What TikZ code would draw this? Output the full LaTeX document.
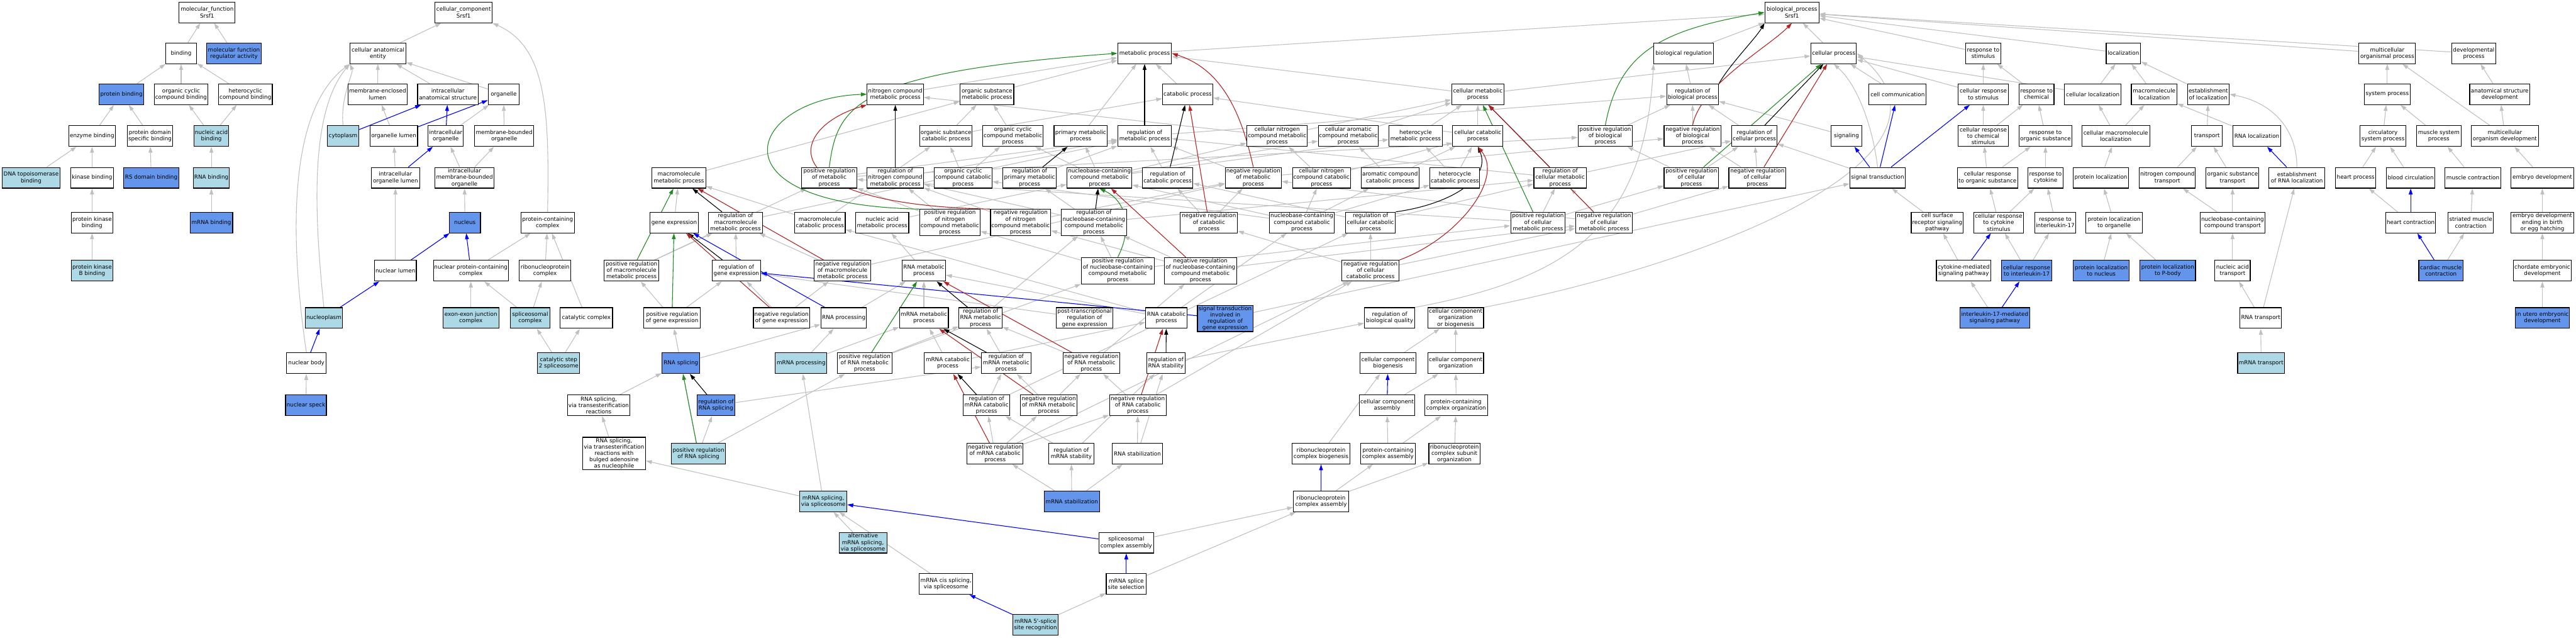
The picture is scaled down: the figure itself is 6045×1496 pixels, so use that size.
\documentclass[tikz,border=0pt]{standalone}
\usepackage{fontspec}
\setmainfont{DejaVu Sans}
\usetikzlibrary{arrows.meta,backgrounds}
\definecolor{dblue}{HTML}{6495ED}
\definecolor{lblue}{HTML}{ADD8E6}
\definecolor{egrey}{HTML}{C0C0C0}
\definecolor{egreen}{HTML}{228B22}
\definecolor{ered}{HTML}{B22222}
\definecolor{eblue}{HTML}{0000FF}
\tikzset{
 gobox/.style={draw=black, line width=1.6pt, rectangle, align=center, font=\fontsize{13}{15}\selectfont, inner xsep=2pt, inner ysep=2pt, minimum height=48.6pt},
 nw/.style={gobox, fill=white},
 nd/.style={gobox, fill=dblue},
 nl/.style={gobox, fill=lblue},
 eg/.style={draw=egrey, line width=1.6pt, -{Triangle[length=14pt,width=9pt]}},
 eb/.style={draw=eblue, line width=1.6pt, -{Triangle[length=14pt,width=9pt]}},
 ek/.style={draw=black, line width=1.6pt, -{Triangle[length=14pt,width=9pt]}},
 egr/.style={draw=egreen, line width=1.6pt, -{Triangle[length=14pt,width=9pt]}},
 er/.style={draw=ered, line width=1.6pt, -{Triangle[length=14pt,width=9pt]}}
}
\newcommand\Nd[5]{\node[#1,minimum width=#4pt] (#2) at (#3) {#5};}
\begin{document}
\begin{tikzpicture}[x=1pt,y=-1pt]
\useasboundingbox (0,0) rectangle (6045,1496);
% ---------- molecular function ----------
\Nd{nw}{mf}{486,29}{131}{molecular\_function\\Srsf1}
\Nd{nw}{bind}{425,125}{73}{binding}
\Nd{nd}{mfra}{549,125}{128}{molecular function\\regulator activity}
\Nd{nd}{pb}{285,221}{105}{protein binding}
\Nd{nw}{occb}{425,221}{126}{organic cyclic\\compound binding}
\Nd{nw}{hcb}{576,221}{126}{heterocyclic\\compound binding}
\Nd{nw}{eb}{216,319}{110}{enzyme binding}
\Nd{nw}{pdsb}{352,319}{107}{protein domain\\specific binding}
\Nd{nl}{nab}{496,319}{82}{nucleic acid\\binding}
\Nd{nl}{dtb}{73,417}{136}{DNA topoisomerase\\binding}
\Nd{nw}{kb}{216,417}{101}{kinase binding}
\Nd{nd}{rsdb}{355,417}{129}{RS domain binding}
\Nd{nl}{rnab}{496,417}{85}{RNA binding}
\Nd{nw}{pkb}{216,522}{98}{protein kinase\\binding}
\Nd{nd}{mrnab}{496,522}{100}{mRNA binding}
\Nd{nl}{pkbb}{216,635}{98}{protein kinase\\B binding}
% ---------- cellular component ----------
\Nd{nw}{cc}{1088,29}{134}{cellular\_component\\Srsf1}
\Nd{nw}{cae}{887,125}{131}{cellular anatomical\\entity}
\Nd{nw}{mel}{886,221}{139}{membrane-enclosed\\lumen}
\Nd{nw}{ias}{1051,221}{142}{intracellular\\anatomical structure}
\Nd{nw}{org}{1182,221}{73}{organelle}
\Nd{nl}{cyto}{805,319}{74}{cytoplasm}
\Nd{nw}{ol}{924,319}{112}{organelle lumen}
\Nd{nw}{io}{1046,319}{83}{intracellular\\organelle}
\Nd{nw}{mbo}{1183,319}{139}{membrane-bounded\\organelle}
\Nd{nw}{iol}{928,417}{113}{intracellular\\organelle lumen}
\Nd{nw}{imbo}{1090,417}{139}{intracellular\\membrane-bounded\\organelle}
\Nd{nd}{nucl}{1091,522}{73}{nucleus}
\Nd{nw}{pcc}{1285,522}{125}{protein-containing\\complex}
\Nd{nw}{nlum}{928,635}{98}{nuclear lumen}
\Nd{nw}{npcc}{1105,635}{176}{nuclear protein-containing\\complex}
\Nd{nw}{rnpc}{1279,635}{121}{ribonucleoprotein\\complex}
\Nd{nl}{nplasm}{760,746}{88}{nucleoplasm}
\Nd{nl}{eejc}{1105,746}{131}{exon-exon junction\\complex}
\Nd{nl}{splc}{1244,746}{92}{spliceosomal\\complex}
\Nd{nw}{catc}{1376,746}{123}{catalytic complex}
\Nd{nw}{nbody}{719,852}{93}{nuclear body}
\Nd{nd}{nspeck}{718,951}{96}{nuclear speck}
\Nd{nl}{cs2s}{1311,852}{99}{catalytic step\\2 spliceosome}
% ---------- biological process: top ----------
\Nd{nw}{bp}{4205,29}{127}{biological\_process\\Srsf1}
\Nd{nw}{mp}{2686,125}{126}{metabolic process}
\Nd{nw}{br}{3951,125}{140}{biological regulation}
\Nd{nw}{cellp}{4303,125}{107}{cellular process}
\Nd{nw}{rts}{4654,125}{83}{response to\\stimulus}
\Nd{nw}{loc}{4983,125}{81}{localization}
\Nd{nw}{mop}{5602,125}{133}{multicellular\\organismal process}
\Nd{nw}{dp}{5805,125}{104}{developmental\\process}
% row 221
\Nd{nw}{ncmp}{2101,221}{132}{nitrogen compound\\metabolic process}
\Nd{nw}{osmp}{2316,221}{126}{organic substance\\metabolic process}
\Nd{nw}{catp}{2787,221}{118}{catabolic process}
\Nd{nw}{cmp}{3468,221}{123}{cellular metabolic\\process}
\Nd{nw}{rbp}{3972,221}{122}{regulation of\\biological process}
\Nd{nw}{cc2}{4453,221}{134}{cell communication}
\Nd{nw}{crts}{4654,221}{117}{cellular response\\to stimulus}
\Nd{nw}{rtc}{4779,221}{82}{response to\\chemical}
\Nd{nw}{cl}{4911,221}{133}{cellular localization}
\Nd{nw}{ml}{5055,221}{107}{macromolecule\\localization}
\Nd{nw}{eol}{5182,221}{98}{establishment\\of localization}
\Nd{nw}{sysp}{5602,221}{107}{system process}
\Nd{nw}{asd}{5866,221}{141}{anatomical structure\\development}
% row 319
\Nd{nw}{oscp}{2220,319}{123}{organic substance\\catabolic process}
\Nd{nw}{occmp}{2377,319}{141}{organic cyclic\\compound metabolic\\process}
\Nd{nw}{pmp}{2536,319}{125}{primary metabolic\\process}
\Nd{nw}{rmp}{2686,319}{126}{regulation of\\metabolic process}
\Nd{nw}{cncmp}{2997,319}{142}{cellular nitrogen\\compound metabolic\\process}
\Nd{nw}{cacmp}{3164,319}{141}{cellular aromatic\\compound metabolic\\process}
\Nd{nw}{hmp}{3322,319}{125}{heterocycle\\metabolic process}
\Nd{nw}{cellcp}{3468,319}{118}{cellular catabolic\\process}
\Nd{nw}{prbp}{3767,319}{128}{positive regulation\\of biological\\process}
\Nd{nw}{nrbp}{3972,319}{134}{negative regulation\\of biological\\process}
\Nd{nw}{rcp}{4117,319}{107}{regulation of\\cellular process}
\Nd{nw}{sig}{4333,319}{71}{signaling}
\Nd{nw}{crtcs}{4654,319}{117}{cellular response\\to chemical\\stimulus}
\Nd{nw}{rtos}{4800,319}{124}{response to\\organic substance}
\Nd{nw}{cml}{4965,319}{159}{cellular macromolecule\\localization}
\Nd{nw}{transp}{5179,319}{72}{transport}
\Nd{nw}{rnaloc}{5296,319}{113}{RNA localization}
\Nd{nw}{csp}{5592,319}{107}{circulatory\\system process}
\Nd{nw}{msp}{5723,319}{105}{muscle system\\process}
\Nd{nw}{mod}{5878,319}{157}{multicellular\\organism development}
% row 417
\Nd{nw}{mmp}{1593,417}{126}{macromolecule\\metabolic process}
\Nd{nw}{prmp}{1946,417}{129}{positive regulation\\of metabolic\\process}
\Nd{nw}{rncmp}{2101,417}{132}{regulation of\\nitrogen compound\\metabolic process}
\Nd{nw}{occcp}{2260,417}{136}{organic cyclic\\compound catabolic\\process}
\Nd{nw}{rpmp}{2416,417}{126}{regulation of\\primary metabolic\\process}
\Nd{nw}{nuccmp}{2580,417}{152}{nucleobase-containing\\compound metabolic\\process}
\Nd{nw}{rcatp}{2740,417}{118}{regulation of\\catabolic process}
\Nd{nw}{nrmp}{2941,417}{132}{negative regulation\\of metabolic\\process}
\Nd{nw}{cnccp}{3101,417}{136}{cellular nitrogen\\compound catabolic\\process}
\Nd{nw}{accp}{3262,417}{135}{aromatic compound\\catabolic process}
\Nd{nw}{hcp}{3414,417}{117}{heterocycle\\catabolic process}
\Nd{nw}{rcmp}{3661,417}{123}{regulation of\\cellular metabolic\\process}
\Nd{nw}{prcp}{3969,417}{128}{positive regulation\\of cellular\\process}
\Nd{nw}{nrcp}{4124,417}{134}{negative regulation\\of cellular\\process}
\Nd{nw}{st}{4406,417}{130}{signal transduction}
\Nd{nw}{crtos}{4664,417}{142}{cellular response\\to organic substance}
\Nd{nw}{rtcy}{4800,417}{82}{response to\\cytokine}
\Nd{nw}{pl}{4930,417}{131}{protein localization}
\Nd{nw}{nct}{5086,417}{131}{nitrogen compound\\transport}
\Nd{nw}{ost}{5239,417}{124}{organic substance\\transport}
\Nd{nw}{erl}{5390,417}{131}{establishment\\of RNA localization}
\Nd{nw}{hp}{5528,417}{94}{heart process}
\Nd{nw}{bc}{5657,417}{114}{blood circulation}
\Nd{nw}{mc}{5803,417}{131}{muscle contraction}
\Nd{nw}{ed}{5966,417}{147}{embryo development}
% row 522
\Nd{nw}{ge}{1582,522}{113}{gene expression}
\Nd{nw}{rmmp}{1726,522}{126}{regulation of\\macromolecule\\metabolic process}
\Nd{nw}{mcp}{1924,522}{119}{macromolecule\\catabolic process}
\Nd{nw}{namp}{2070,522}{125}{nucleic acid\\metabolic process}
\Nd{nw}{prncmp}{2229,522}{142}{positive regulation\\of nitrogen\\compound metabolic\\process}
\Nd{nw}{nrncmp}{2395,522}{141}{negative regulation\\of nitrogen\\compound metabolic\\process}
\Nd{nw}{rnuccmp}{2567,522}{153}{regulation of\\nucleobase-containing\\compound metabolic\\process}
\Nd{nw}{nrcatp}{2837,522}{134}{negative regulation\\of catabolic\\process}
\Nd{nw}{nucccp}{3055,522}{153}{nucleobase-containing\\compound catabolic\\process}
\Nd{nw}{rccp}{3216,522}{117}{regulation of\\cellular catabolic\\process}
\Nd{nw}{prcmp}{3609,522}{128}{positive regulation\\of cellular\\metabolic process}
\Nd{nw}{nrcmp}{3764,522}{134}{negative regulation\\of cellular\\metabolic process}
\Nd{nw}{csrsp}{4546,522}{122}{cell surface\\receptor signaling\\pathway}
\Nd{nw}{crtcys}{4690,522}{117}{cellular response\\to cytokine\\stimulus}
\Nd{nw}{rtil}{4823,522}{97}{response to\\interleukin-17}
\Nd{nw}{plto}{4961,522}{132}{protein localization\\to organelle}
\Nd{nw}{ncct}{5239,522}{152}{nucleobase-containing\\compound transport}
\Nd{nw}{hc}{5657,522}{117}{heart contraction}
\Nd{nw}{smc}{5798,522}{107}{striated muscle\\contraction}
\Nd{nw}{edeb}{5966,522}{147}{embryo development\\ending in birth\\or egg hatching}
% row 635
\Nd{nw}{prmmp}{1482,635}{129}{positive regulation\\of macromolecule\\metabolic process}
\Nd{nw}{rge}{1728,635}{113}{regulation of\\gene expression}
\Nd{nw}{nrmmp}{1977,635}{132}{negative regulation\\of macromolecule\\metabolic process}
\Nd{nw}{rnamp}{2168,635}{102}{RNA metabolic\\process}
\Nd{nw}{prnuccmp}{2623,635}{171}{positive regulation\\of nucleobase-containing\\compound metabolic\\process}
\Nd{nw}{nrnuccmp}{2817,635}{170}{negative regulation\\of nucleobase-containing\\compound metabolic\\process}
\Nd{nw}{nrccp}{3216,635}{134}{negative regulation\\of cellular\\catabolic process}
\Nd{nw}{cmsp}{4608,635}{128}{cytokine-mediated\\signaling pathway}
\Nd{nd}{crtil}{4756,635}{118}{cellular response\\to interleukin-17}
\Nd{nd}{pltn}{4931,635}{131}{protein localization\\to nucleus}
\Nd{nd}{pltp}{5087,635}{130}{protein localization\\to P-body}
\Nd{nw}{nat}{5239,635}{83}{nucleic acid\\transport}
\Nd{nd}{cmc}{5728,635}{104}{cardiac muscle\\contraction}
\Nd{nw}{ced}{5966,635}{136}{chordate embryonic\\development}
% row 746
\Nd{nw}{prge}{1577,746}{133}{positive regulation\\of gene expression}
\Nd{nw}{nrge}{1834,746}{132}{negative regulation\\of gene expression}
\Nd{nw}{rnap}{1980,746}{107}{RNA processing}
\Nd{nw}{mrnamp}{2168,746}{115}{mRNA metabolic\\process}
\Nd{nw}{rrnamp}{2301,746}{101}{regulation of\\RNA metabolic\\process}
\Nd{nw}{ptrge}{2545,746}{133}{post-transcriptional\\regulation of\\gene expression}
\Nd{nw}{rnacp}{2737,746}{97}{RNA catabolic\\process}
\Nd{nd}{stirge}{2875,747}{130}{signal transduction\\involved in\\regulation of\\gene expression}
\Nd{nw}{rbq}{3261,746}{118}{regulation of\\biological quality}
\Nd{nw}{ccoob}{3416,746}{131}{cellular component\\organization\\or biogenesis}
\Nd{nd}{il17}{4681,746}{164}{interleukin-17-mediated\\signaling pathway}
\Nd{nw}{rnat}{5305,746}{97}{RNA transport}
\Nd{nd}{iued}{5966,746}{128}{in utero embryonic\\development}
% row 852
\Nd{nd}{rnasp}{1598,852}{89}{RNA splicing}
\Nd{nl}{mrnap}{1880,852}{121}{mRNA processing}
\Nd{nw}{prrnamp}{2029,852}{128}{positive regulation\\of RNA metabolic\\process}
\Nd{nw}{mrnacp}{2224,852}{110}{mRNA catabolic\\process}
\Nd{nw}{rmrnamp}{2361,852}{116}{regulation of\\mRNA metabolic\\process}
\Nd{nw}{nrrnamp}{2561,852}{133}{negative regulation\\of RNA metabolic\\process}
\Nd{nw}{rrnastab}{2736,852}{91}{regulation of\\RNA stability}
\Nd{nw}{ccbio}{3257,852}{131}{cellular component\\biogenesis}
\Nd{nw}{ccorg}{3416,852}{131}{cellular component\\organization}
\Nd{nl}{mrnat}{5306,852}{110}{mRNA transport}
% row 951
\Nd{nw}{rsvtr}{1405,951}{147}{RNA splicing,\\via transesterification\\reactions}
\Nd{nd}{rrs}{1680,951}{89}{regulation of\\RNA splicing}
\Nd{nw}{rmrnacp}{2315,951}{110}{regulation of\\mRNA catabolic\\process}
\Nd{nw}{nrmrnamp}{2461,951}{133}{negative regulation\\of mRNA metabolic\\process}
\Nd{nw}{nrrnacp}{2670,951}{133}{negative regulation\\of RNA catabolic\\process}
\Nd{nw}{cca}{3255,951}{131}{cellular component\\assembly}
\Nd{nw}{pcco}{3417,951}{147}{protein-containing\\complex organization}
% row 1064
\Nd{nw}{rsvtrba}{1441,1064}{148}{RNA splicing,\\via transesterification\\reactions with\\bulged adenosine\\as nucleophile}
\Nd{nl}{prrs}{1639,1064}{128}{positive regulation\\of RNA splicing}
\Nd{nw}{nrmrnacp}{2335,1064}{132}{negative regulation\\of mRNA catabolic\\process}
\Nd{nw}{rmstab}{2514,1064}{105}{regulation of\\mRNA stability}
\Nd{nw}{rnastab}{2669,1064}{117}{RNA stabilization}
\Nd{nw}{rcb}{3100,1064}{136}{ribonucleoprotein\\complex biogenesis}
\Nd{nw}{pcca}{3257,1064}{128}{protein-containing\\complex assembly}
\Nd{nw}{rcso}{3413,1064}{120}{ribonucleoprotein\\complex subunit\\organization}
% row 1176
\Nd{nl}{msvs}{1932,1176}{111}{mRNA splicing,\\via spliceosome}
\Nd{nd}{mrnastab}{2515,1176}{130}{mRNA stabilization}
\Nd{nw}{rca}{3100,1176}{129}{ribonucleoprotein\\complex assembly}
% rows 1273-1466
\Nd{nl}{amsvs}{2025,1273}{112}{alternative\\mRNA splicing,\\via spliceosome}
\Nd{nw}{sca}{2643,1273}{129}{spliceosomal\\complex assembly}
\Nd{nw}{mcsvs}{2220,1370}{126}{mRNA cis splicing,\\via spliceosome}
\Nd{nw}{msss}{2643,1370}{94}{mRNA splice\\site selection}
\Nd{nl}{m5ss}{2430,1466}{107}{mRNA 5\textquotesingle-splice\\site recognition}
% ---------- edges ----------
\begin{pgfonlayer}{background}
\foreach \a/\b in {bind/mf, mfra/mf, pb/bind, occb/bind, hcb/bind, eb/pb, pdsb/pb, nab/occb, nab/hcb, dtb/eb, kb/eb, rsdb/pdsb, rnab/nab, pkb/kb, mrnab/rnab, pkbb/pkb,
 cae/cc, mel/cae, ias/cae, org/cae, ol/mel, io/org, mbo/org, iol/ol, imbo/io, imbo/mbo, nlum/iol, nucl/imbo, nspeck/nbody, npcc/pcc, rnpc/pcc, eejc/npcc, splc/npcc, splc/rnpc, catc/pcc, cs2s/splc, cs2s/catc,
 mp/bp, cellp/bp, br/bp, rts/bp, loc/bp, mop/bp, dp/bp, rbp/br, prbp/rbp, nrbp/rbp, rcp/rbp, prcp/prbp, prcp/rcp, nrcp/nrbp, nrcp/rcp, cc2/cellp, sig/rbp, st/rcp, crts/rts, crts/cellp, rtc/rts, cl/loc, cl/cellp, ml/loc, eol/loc, crtcs/crts, crtcs/rtc, rtos/rtc, cml/cl, cml/ml, crtos/crtcs, crtos/rtos, rtcy/rtos, pl/cml, csrsp/st, crtcys/crtos, crtcys/rtcy, rtil/rtcy, plto/pl, cmsp/csrsp, crtil/crtcys, crtil/rtil, pltn/plto, il17/cmsp, pltp/plto, transp/eol, rnaloc/ml, nct/transp, ost/transp, ncct/nct, ncct/ost, nat/ncct, rnat/nat, rnat/erl, mrnat/rnat, sysp/mop, asd/dp, csp/sysp, msp/sysp, mod/asd, mod/mop, hp/csp, bc/csp, mc/msp, ed/mod, hc/hp, smc/mc, edeb/ed, cmc/smc, ced/edeb, iued/ced, ccbio/ccoob, ccorg/ccoob, cca/ccorg, pcco/ccorg, rcb/ccbio, pcca/cca, pcca/pcco, rcso/pcco, rca/pcca, rca/rcso, sca/rca, msss/rca,
 ncmp/mp, osmp/mp, catp/mp, pmp/mp, cmp/mp, cmp/cellp, oscp/osmp, oscp/catp, occmp/osmp, rmp/rbp, cncmp/ncmp, cncmp/cmp, cacmp/cmp, hmp/cmp, cellcp/cmp, cellcp/catp, mmp/osmp, prmp/rmp, prmp/prbp, rncmp/rmp, occcp/oscp, occcp/occmp, rpmp/rmp, nuccmp/occmp, nuccmp/pmp, nuccmp/cncmp, nuccmp/cacmp, nuccmp/hmp, rcatp/rmp, nrmp/rmp, nrmp/nrbp, cnccp/cncmp, cnccp/cellcp, accp/cacmp, accp/cellcp, hcp/hmp, hcp/cellcp, rcmp/rmp, rcmp/rcp,
 ge/mmp, rmmp/rmp, mcp/mmp, mcp/oscp, namp/nuccmp, prncmp/rncmp, prncmp/prmp, nrncmp/rncmp, nrncmp/nrmp, rnuccmp/rncmp, rnuccmp/rpmp, rnuccmp/rcmp, nrcatp/rcatp, nrcatp/nrmp, nucccp/nuccmp, nucccp/cnccp, nucccp/accp, nucccp/hcp, nucccp/occcp, rccp/rcatp, rccp/rcmp, prcmp/rcmp, prcmp/prcp, prcmp/prmp, nrcmp/rcmp, nrcmp/nrcp, nrcmp/nrmp,
 prmmp/rmmp, prmmp/prmp, rge/rmmp, nrmmp/rmmp, nrmmp/nrmp, rnamp/namp, prnuccmp/rnuccmp, prnuccmp/prncmp, prnuccmp/prcmp, nrnuccmp/rnuccmp, nrnuccmp/nrncmp, nrnuccmp/nrcmp, nrccp/rccp, nrccp/nrcatp, nrccp/nrcmp,
 prge/rge, prge/prmmp, nrge/rge, nrge/nrmmp, rnap/rnamp, mrnamp/rnamp, rrnamp/rnuccmp, ptrge/rge, rnacp/rnamp, rnacp/nucccp, rnacp/mcp, stirge/st,
 rnasp/rnap, mrnap/rnap, mrnap/mrnamp, prrnamp/rrnamp, prrnamp/prnuccmp, mrnacp/mrnamp, mrnacp/rnacp, rmrnamp/rrnamp, nrrnamp/rrnamp, nrrnamp/nrnuccmp, rrnastab/rbq,
 rsvtr/rnasp, rrs/rmrnamp, rmrnacp/rmrnamp, rmrnacp/rccp, nrmrnamp/rmrnamp, nrmrnamp/nrrnamp, nrrnacp/nrrnamp, nrrnacp/nrccp,
 rsvtrba/rsvtr, prrs/rrs, prrs/prge, prrs/prrnamp, nrmrnacp/rmrnacp, nrmrnacp/nrmrnamp, nrmrnacp/nrrnacp, nrmrnacp/nrccp, rmstab/rrnastab, rmstab/rmrnacp, rnastab/nrrnacp, rnastab/rrnastab,
 msvs/rsvtrba, msvs/mrnap, mrnastab/nrmrnacp, mrnastab/rmstab, mrnastab/rnastab, amsvs/msvs, mcsvs/msvs, m5ss/msss}
 \draw[eg] (\a) -- (\b);
% curved grey
\draw[eg] (cyto.north) .. controls (798,230) and (830,170) .. (cae.south west);
\draw[eg] (nplasm.north) .. controls (735,480) and (730,260) .. (cae.south west);
\draw[eg] (nbody.north) .. controls (680,560) and (675,260) .. (cae.south west);
\draw[eg] (pcc.north) .. controls (1290,250) and (1280,110) .. (cc.south east);
\draw[eg] (ccoob.north east) .. controls (4050,610) and (4640,360) .. (cellp.east);
\draw[eg] (rbq.north east) .. controls (3700,650) and (3860,520) .. (br.south west);
\draw[eg] (st.north) .. controls (4395,300) and (4360,200) .. (cellp.south);
\draw[eg] (erl.north) .. controls (5390,300) and (5330,240) .. (eol.east);
% blue
\foreach \a/\b in {cyto/ias, ol/org, io/ias, iol/io, nlum/nucl, nplasm/nlum, nbody/nplasm, npcc/nucl, st/sig, st/cc2, st/crts, cmsp/crtcys, il17/crtil, erl/rnaloc, hc/bc, cmc/hc, cca/ccbio, rca/rcb, rnap/ge, stirge/rge, sca/msvs, msss/sca, m5ss/mcsvs}
 \draw[eb] (\a) -- (\b);
% black
\foreach \a/\b in {rcp/cellp, rmp/mp, rncmp/ncmp, rpmp/pmp, rcatp/catp, rnuccmp/nuccmp, rcmp/cmp, rmmp/mmp, rge/ge, rrnamp/rnamp, rrnastab/rnacp, rmrnamp/mrnamp, rmrnacp/mrnacp, rrs/rnasp}
 \draw[ek] (\a) -- (\b);
\draw[ek] (rbp.north east) .. controls (4060,150) and (4120,90) .. (bp.south west);
\draw[ek] (rccp.north east) .. controls (3400,480) and (3500,420) .. (cellcp.south);
% green
\foreach \a/\b in {prcp/cellp, prcmp/cmp, prmmp/mmp, prge/ge, prrnamp/rnamp, prrs/rnasp}
 \draw[egr] (\a) -- (\b);
\draw[egr] (prbp.north) .. controls (3800,120) and (3900,70) .. (bp.west);
\draw[egr] (prnuccmp.north) .. controls (2660,530) and (2640,470) .. (nuccmp.south);
\draw[egr] (prmp.north) .. controls (1965,250) and (2000,170) .. (mp.west);
\draw[egr] (prncmp.north west) .. controls (1650,480) and (1760,230) .. (ncmp.west);
% red
\foreach \a/\b in {nrcp/cellp, nrcatp/catp, nrnuccmp/nuccmp, nrcmp/cmp, nrmmp/mmp, nrge/ge, nrrnamp/rnamp, nrmrnamp/mrnamp, nrrnacp/rnacp, nrmrnacp/mrnacp}
 \draw[er] (\a) -- (\b);
\draw[er] (nrbp.north) .. controls (3990,200) and (4150,110) .. (bp.south);
\draw[er] (nrccp.north east) .. controls (3420,560) and (3530,420) .. (cellcp.south);
\draw[er] (nrmp.north) .. controls (2910,250) and (2860,160) .. (mp.east);
\draw[er] (nrncmp.north west) .. controls (1800,480) and (1850,300) .. (ncmp.south west);
\end{pgfonlayer}
\end{tikzpicture}
\end{document}
